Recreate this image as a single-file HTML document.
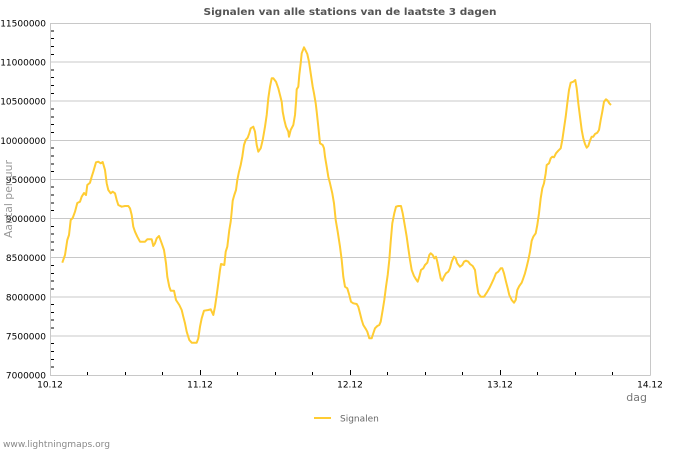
<!DOCTYPE html>
<html><head><meta charset="utf-8"><style>
html,body{margin:0;padding:0;background:#fff;}
svg{display:block;}
text{font-family:"DejaVu Sans","Liberation Sans",sans-serif;}
</style></head><body>
<svg width="700" height="450" viewBox="0 0 700 450" xmlns="http://www.w3.org/2000/svg">
<rect width="700" height="450" fill="#fff"/>
<text x="350" y="15" text-anchor="middle" font-size="10" font-weight="bold" fill="#555" textLength="293" lengthAdjust="spacingAndGlyphs">Signalen van alle stations van de laatste 3 dagen</text>
<g stroke="#c8c8c8" stroke-width="1" shape-rendering="crispEdges">
<line x1="50" y1="335.9" x2="650" y2="335.9"/>
<line x1="50" y1="296.8" x2="650" y2="296.8"/>
<line x1="50" y1="257.7" x2="650" y2="257.7"/>
<line x1="50" y1="218.6" x2="650" y2="218.6"/>
<line x1="50" y1="179.4" x2="650" y2="179.4"/>
<line x1="50" y1="140.3" x2="650" y2="140.3"/>
<line x1="50" y1="101.2" x2="650" y2="101.2"/>
<line x1="50" y1="62.1" x2="650" y2="62.1"/>
<line x1="50" y1="23.5" x2="650.5" y2="23.5"/>
<line x1="650.5" y1="23" x2="650.5" y2="375.5"/>
<line x1="50.5" y1="23" x2="50.5" y2="375.5"/>
<line x1="50" y1="375.5" x2="650.5" y2="375.5"/>
</g>
<g stroke="#000" stroke-width="1" shape-rendering="crispEdges" id="yt"></g>
<g stroke="#000" stroke-width="1" shape-rendering="crispEdges">
<line x1="87.5" y1="372" x2="87.5" y2="375"/><line x1="125.5" y1="372" x2="125.5" y2="375"/><line x1="162.5" y1="372" x2="162.5" y2="375"/>
<line x1="200.5" y1="370" x2="200.5" y2="375"/>
<line x1="237.5" y1="372" x2="237.5" y2="375"/><line x1="275.5" y1="372" x2="275.5" y2="375"/><line x1="312.5" y1="372" x2="312.5" y2="375"/>
<line x1="350.5" y1="370" x2="350.5" y2="375"/>
<line x1="387.5" y1="372" x2="387.5" y2="375"/><line x1="425.5" y1="372" x2="425.5" y2="375"/><line x1="462.5" y1="372" x2="462.5" y2="375"/>
<line x1="500.5" y1="370" x2="500.5" y2="375"/>
<line x1="537.5" y1="372" x2="537.5" y2="375"/><line x1="575.5" y1="372" x2="575.5" y2="375"/><line x1="612.5" y1="372" x2="612.5" y2="375"/>
</g>
<g id="minor" stroke="#000" stroke-width="1" shape-rendering="crispEdges">
<line x1="51" y1="30.8" x2="54" y2="30.8"/><line x1="51" y1="38.6" x2="54" y2="38.6"/><line x1="51" y1="46.5" x2="54" y2="46.5"/><line x1="51" y1="54.3" x2="54" y2="54.3"/>
<line x1="51" y1="69.9" x2="54" y2="69.9"/><line x1="51" y1="77.7" x2="54" y2="77.7"/><line x1="51" y1="85.6" x2="54" y2="85.6"/><line x1="51" y1="93.4" x2="54" y2="93.4"/>
<line x1="51" y1="109" x2="54" y2="109"/><line x1="51" y1="116.8" x2="54" y2="116.8"/><line x1="51" y1="124.7" x2="54" y2="124.7"/><line x1="51" y1="132.5" x2="54" y2="132.5"/>
<line x1="51" y1="148.1" x2="54" y2="148.1"/><line x1="51" y1="155.9" x2="54" y2="155.9"/><line x1="51" y1="163.8" x2="54" y2="163.8"/><line x1="51" y1="171.6" x2="54" y2="171.6"/>
<line x1="51" y1="187.2" x2="54" y2="187.2"/><line x1="51" y1="195" x2="54" y2="195"/><line x1="51" y1="202.9" x2="54" y2="202.9"/><line x1="51" y1="210.7" x2="54" y2="210.7"/>
<line x1="51" y1="226.4" x2="54" y2="226.4"/><line x1="51" y1="234.2" x2="54" y2="234.2"/><line x1="51" y1="242" x2="54" y2="242"/><line x1="51" y1="249.9" x2="54" y2="249.9"/>
<line x1="51" y1="265.5" x2="54" y2="265.5"/><line x1="51" y1="273.3" x2="54" y2="273.3"/><line x1="51" y1="281.1" x2="54" y2="281.1"/><line x1="51" y1="289" x2="54" y2="289"/>
<line x1="51" y1="304.6" x2="54" y2="304.6"/><line x1="51" y1="312.4" x2="54" y2="312.4"/><line x1="51" y1="320.2" x2="54" y2="320.2"/><line x1="51" y1="328.1" x2="54" y2="328.1"/>
<line x1="51" y1="343.7" x2="54" y2="343.7"/><line x1="51" y1="351.5" x2="54" y2="351.5"/><line x1="51" y1="359.4" x2="54" y2="359.4"/><line x1="51" y1="367.2" x2="54" y2="367.2"/>
</g>
<g font-size="9" fill="#000" text-anchor="end">
<text x="46" y="26.7">11500000</text>
<text x="46" y="65.6">11000000</text>
<text x="46" y="104.7">10500000</text>
<text x="46" y="143.8">10000000</text>
<text x="46" y="182.9">9500000</text>
<text x="46" y="222.1">9000000</text>
<text x="46" y="261.2">8500000</text>
<text x="46" y="300.3">8000000</text>
<text x="46" y="339.4">7500000</text>
<text x="46" y="378.5">7000000</text>
</g>
<g font-size="9" fill="#000" text-anchor="middle">
<text x="50" y="387.7">10.12</text>
<text x="200" y="387.7">11.12</text>
<text x="350" y="387.7">12.12</text>
<text x="500" y="387.7">13.12</text>
<text x="650" y="387.7">14.12</text>
</g>
<text x="647" y="401" font-size="11" fill="#777" text-anchor="end">dag</text>
<text transform="translate(12,199) rotate(-90)" font-size="11" fill="#999" text-anchor="middle" textLength="78" lengthAdjust="spacingAndGlyphs">Aantal per uur</text>
<polyline fill="none" stroke="#ffcc33" stroke-width="2" stroke-linejoin="round" points="62.3,262.7 65,255 67.3,240 69,235 70.7,220 72.7,218 75,211.7 77.3,203 80,201.7 81.7,196.7 84,193 86,195 87.3,185 90,182.7 91.7,176.7 93.3,171.7 96,162.3 98.3,161.7 100.7,163.3 102.7,162 105,170 106.7,183.3 108.3,190 110.7,193.3 112.7,191.7 115,193.3 116.7,200 118.3,205 121.7,206.7 125,206 128.3,206 130,208.3 131.7,215 133.3,226.7 135,231.7 137.3,236.7 140,241.7 145,241.7 147.3,239.3 151.7,239.3 153.3,246 155,243.3 156.7,238.3 159,236 161.7,243.3 164,250 166,263.3 167.3,276.7 169.3,286.7 170.7,290.7 174,290.7 176,300 179.3,305 181.7,310 183.3,316.7 185,323.3 186.7,331.7 189.3,340 191.7,342.7 196.7,342.7 198.3,338.3 200,326.7 201.7,318.3 204,310.7 208.3,310 210.7,309.3 213.3,315 215,306.7 216.7,295 218.3,283.3 220,270 221,264 224.3,265 225.7,251.7 227.3,246.7 229.3,230 230.7,221.7 231.7,211.7 232.7,200.7 234.3,195 236,190 237.3,180 239,171.7 240.7,165 242.3,156.7 244,145 245.7,140 247.7,137.7 249.3,133.3 250.7,128.3 253.3,126.7 255,131.7 256.7,145 258.3,151.7 260.7,148.3 262.7,140 265,126.7 266.7,115 268.3,98.3 270,86.7 271.7,78.3 273.3,78.3 276,81.7 278.3,88.3 280,95 281.7,101.7 282.7,111.7 284.3,120 286,126.7 288.3,131.7 289,136.7 290.7,130 293.3,125 295,115 296,101.7 296.7,89.3 298.3,86.7 299.3,75 300.7,63.3 301.7,53.3 304,47.3 305.7,50.7 307.3,54 309,61.7 310.7,73.3 312.7,86.7 314,93.3 315.7,103.3 316.7,111.7 318.3,126.7 320,143.3 322.7,145 324,148.3 325,156.7 326.7,166.7 328.3,176.7 330,183.3 332.3,193.3 334,203.3 335.7,220 337.7,231.7 340,246.7 341.7,260 343.3,276.7 345,286.7 347.3,288.3 349.3,295 351,301.7 353.3,303.3 356.7,304 358.3,306.7 360,313.3 361.7,320 363.3,325 366,329.3 367.3,331.7 369.3,338.3 371.7,338.3 373.3,333.3 375,328.3 377.3,326 379.3,325 380.7,321.7 382.7,310 384.3,300 386,286.7 387.7,275 389.3,260 390.7,241.7 392.3,223.3 394.3,213.3 396,206.7 398.3,206 401,206 402.7,213.3 405,226.7 406.7,236.7 408.3,248.3 410,260 411.7,270 414,276 416,279.3 417.7,281.7 419.3,276.7 421,270 423.3,268.3 425,265 427.3,262.7 429.3,255 430.7,253.3 432.7,255 434.3,258.3 436,256.7 437.3,261.7 439,270 440.7,278.3 442.3,280.7 444,276.7 446,273.3 448.3,271.7 450,268.3 451.7,261.7 454,256.7 455.7,258.3 457.3,263.3 460,266.7 462.3,265 464,261.7 466,260.7 468.3,261.7 470,264 472.7,266 475,270 476.7,283.3 478.3,293.3 480.7,296.7 484,296.7 486.7,292.7 489.3,288.3 491.7,283.3 494,278.3 496,273.3 498.3,271.7 500.7,268.3 502.3,268.3 504,273.3 506,281.7 507.7,288.3 509.3,295 511.7,300 514,302.7 515.7,300 517.3,290 519.3,286 521.7,282.7 523.3,278.3 525,273.3 526.7,266.7 528.3,260 530,251.7 531.7,240.7 533.3,236.7 535.7,233.3 537.3,225 539,213.3 540.7,198.3 542.3,188.3 544,183.3 545.7,173.3 546.7,165 549,163.3 550.7,158.3 552.3,156.7 554,157.3 556,153.3 558.3,150.7 560.7,148.3 562.3,140 564,128.3 565.7,116.7 567.3,103.3 569,90 570.7,82.7 573.3,81.7 575.3,80 576.7,88.3 578.3,103.3 580,116.7 581.7,130 583.3,138.3 585,144 586.7,147.7 588.3,146 590,140.7 591.7,136.7 593.3,136.7 595,134 597.3,132.7 599,130 600.7,120 602.3,111.7 604,101.7 606,99.3 607.7,100.7 609.3,103.3 611,105"/>
<line x1="314" y1="418" x2="331" y2="418" stroke="#ffcc33" stroke-width="2"/>
<text x="340" y="421.5" font-size="9" fill="#666">Signalen</text>
<text x="3" y="447" font-size="9" fill="#888" textLength="107" lengthAdjust="spacingAndGlyphs">www.lightningmaps.org</text>
</svg>
</body></html>
